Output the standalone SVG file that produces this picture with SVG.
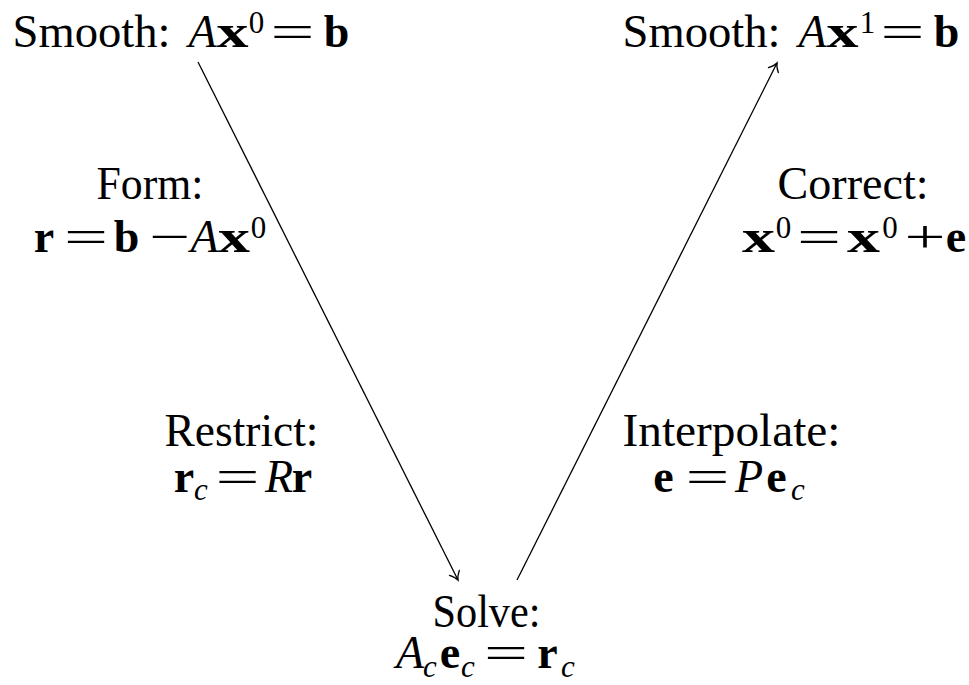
<svg xmlns="http://www.w3.org/2000/svg" width="969" height="685" viewBox="0 0 969 685">
<style>
text{font-family:'Liberation Serif','Times New Roman','Noto Serif','DejaVu Serif',serif;font-size:46px;fill:#000;text-anchor:middle}
.it{font-style:italic}
.bf{font-weight:bold}
.sc{font-size:31px}
.ss{font-size:31px;font-style:italic}
.ln{stroke:#000;stroke-width:1.3;fill:none}
</style>
<defs>
<marker id="arr" markerUnits="userSpaceOnUse" markerWidth="20" markerHeight="20" viewBox="-10 -10 20 20" refX="0" refY="0" orient="auto">
<path d="M -8 -5.5 C -5 -2.5 -2 -0.6 0 0 C -2 0.6 -5 2.5 -8 5.5" fill="none" stroke="#000" stroke-width="1.3" stroke-linecap="round"/>
</marker>
</defs>
<g id="connectors">
<line class="ln" x1="198" y1="62" x2="458" y2="580" marker-end="url(#arr)"/>
<line class="ln" x1="517" y1="580" x2="777" y2="63" marker-end="url(#arr)"/>
</g>
<g id="smooth1">
<text x="91.5" y="47" textLength="158" lengthAdjust="spacingAndGlyphs">Smooth:</text>
<text y="47"><tspan x="202.5" class="it">A</tspan><tspan x="232.5" class="bf" textLength="32" lengthAdjust="spacingAndGlyphs">x</tspan><tspan x="256.5" y="33" class="sc">0</tspan><tspan x="292.5" y="47" textLength="44" lengthAdjust="spacingAndGlyphs">=</tspan><tspan x="336.5" class="bf">b</tspan></text>
</g>
<g id="smooth2">
<text x="701.5" y="47" textLength="158" lengthAdjust="spacingAndGlyphs">Smooth:</text>
<text y="47"><tspan x="812.5" class="it">A</tspan><tspan x="842.5" class="bf" textLength="32" lengthAdjust="spacingAndGlyphs">x</tspan><tspan x="867.5" y="33" class="sc">1</tspan><tspan x="902.5" y="47" textLength="44" lengthAdjust="spacingAndGlyphs">=</tspan><tspan x="946.5" class="bf">b</tspan></text>
</g>
<g id="form">
<text x="150" y="199" textLength="107" lengthAdjust="spacingAndGlyphs">Form:</text>
<text y="252"><tspan x="44" class="bf">r</tspan><tspan x="86" textLength="44" lengthAdjust="spacingAndGlyphs">=</tspan><tspan x="126.5" class="bf">b</tspan><tspan x="170" textLength="41" lengthAdjust="spacingAndGlyphs">−</tspan><tspan x="204.5" class="it">A</tspan><tspan x="234" class="bf" textLength="32" lengthAdjust="spacingAndGlyphs">x</tspan><tspan x="258.5" y="238" class="sc">0</tspan></text>
</g>
<g id="correct">
<text x="853" y="199" textLength="151" lengthAdjust="spacingAndGlyphs">Correct:</text>
<text y="252"><tspan x="758.5" class="bf" textLength="33" lengthAdjust="spacingAndGlyphs">x</tspan><tspan x="783.5" y="238" class="sc">0</tspan><tspan x="819" y="252" textLength="44" lengthAdjust="spacingAndGlyphs">=</tspan><tspan x="863.5" class="bf" textLength="33" lengthAdjust="spacingAndGlyphs">x</tspan><tspan x="890" y="238" class="sc">0</tspan><tspan x="925" y="252" textLength="41" lengthAdjust="spacingAndGlyphs">+</tspan><tspan x="956" class="bf">e</tspan></text>
</g>
<g id="restrict">
<text x="241.5" y="446" textLength="154" lengthAdjust="spacingAndGlyphs">Restrict:</text>
<text y="492"><tspan x="184" class="bf">r</tspan><tspan x="201" y="500" class="ss">c</tspan><tspan x="237.5" y="492" textLength="44" lengthAdjust="spacingAndGlyphs">=</tspan><tspan x="279" class="it">R</tspan><tspan x="302" class="bf">r</tspan></text>
</g>
<g id="interpolate">
<text x="731.5" y="446" textLength="218" lengthAdjust="spacingAndGlyphs">Interpolate:</text>
<text y="492"><tspan x="663.5" class="bf">e</tspan><tspan x="707.5" textLength="44" lengthAdjust="spacingAndGlyphs">=</tspan><tspan x="749" class="it">P</tspan><tspan x="776.5" class="bf">e</tspan><tspan x="798" y="500" class="ss">c</tspan></text>
</g>
<g id="solve">
<text x="486.5" y="627" textLength="108" lengthAdjust="spacingAndGlyphs">Solve:</text>
<text y="668"><tspan x="410" class="it">A</tspan><tspan x="430" y="677" class="ss">c</tspan><tspan x="450" y="668" class="bf">e</tspan><tspan x="468" y="677" class="ss">c</tspan><tspan x="506" y="668" textLength="44" lengthAdjust="spacingAndGlyphs">=</tspan><tspan x="547.5" class="bf">r</tspan><tspan x="568" y="677" class="ss">c</tspan></text>
</g>
</svg>
